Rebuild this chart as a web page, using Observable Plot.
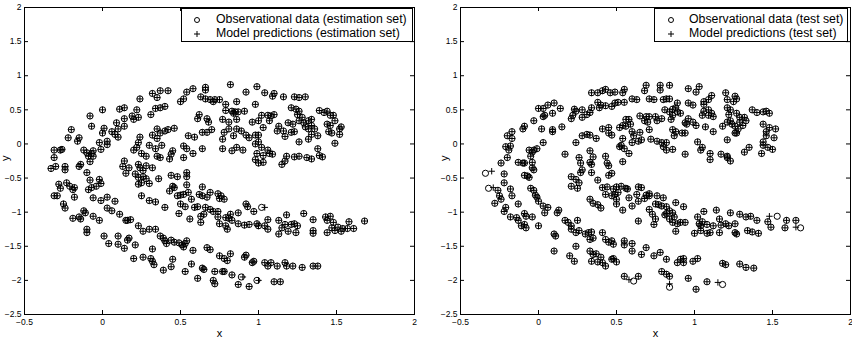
<!DOCTYPE html>
<html><head><meta charset="utf-8">
<script src="https://cdn.jsdelivr.net/npm/d3@7"></script>
<script src="https://cdn.jsdelivr.net/npm/@observablehq/plot@0.6"></script>
<style>
body{margin:0;background:#fff;font-family:"Liberation Sans",Arial,sans-serif;}
#wrap{position:relative;width:852px;height:346px;overflow:hidden;}
.panel{position:absolute;top:0;}
.legend{position:absolute;border:1px solid #000;background:#fff;color:#000;box-sizing:border-box;}
.legend svg{position:absolute;}
</style></head><body>
<div id="wrap"></div>
<script>
const xTicks = [-0.5, 0, 0.5, 1, 1.5, 2];
const yTicks = [-2.5, -2, -1.5, -1, -0.5, 0, 0.5, 1, 1.5, 2];
const xLabel = "x", yLabel = "y";
const estLegend = ["Observational data (estimation set)", "Model predictions (estimation set)"];
const testLegend = ["Observational data (test set)", "Model predictions (test set)"];

// Estimation set: points where observation and prediction coincide
const estPoints = [
[0.32,0.74],[0.37,0.78],[0.42,0.78],[0.35,0.68],[0.24,0.66],[0.54,0.76],[0.58,0.81],[0.52,0.66],[0.50,0.62],
[0.00,0.50],[0.11,0.51],[0.14,0.53],[0.22,0.50],[0.34,0.52],[0.37,0.53],[0.40,0.55],[0.31,0.43],[0.19,0.41],[0.20,0.36],[0.23,0.39],
[-0.08,0.41],[-0.07,0.26],[0.14,0.37],[0.09,0.31],[0.14,0.26],[0.01,0.23],[0.00,0.16],[0.06,0.18],[0.10,0.22],[0.08,0.14],[0.10,0.10],
[-0.20,0.21],[-0.22,0.09],[-0.15,0.09],[-0.16,0.04],[-0.02,0.02],[0.03,0.04],[0.03,-0.01],[-0.12,-0.09],[-0.10,-0.13],[-0.07,-0.14],
[-0.06,-0.10],[-0.09,-0.18],[-0.06,-0.18],[-0.01,-0.08],[-0.31,-0.09],[-0.27,-0.09],[-0.26,-0.08],[-0.31,-0.20],[-0.33,-0.36],[-0.30,-0.33],
[-0.24,-0.33],[-0.24,-0.38],[-0.14,-0.30],[-0.15,-0.33],[-0.08,-0.26],[-0.10,-0.42],[-0.08,-0.53],[-0.02,-0.52],
[0.24,0.10],[0.35,0.22],[0.37,0.16],[0.40,0.19],[0.42,0.21],[0.46,0.23],[0.32,0.13],[0.35,0.08],[0.38,-0.02],[0.30,-0.02],[0.23,0.02],
[0.22,-0.05],[0.20,-0.09],[0.25,-0.14],[0.28,-0.18],[0.34,-0.07],[0.35,-0.18],[0.37,-0.20],[0.45,-0.10],[0.44,-0.15],[0.43,-0.22],
[0.55,0.12],[0.59,0.10],[0.52,-0.03],[0.54,-0.07],[0.58,-0.14],[0.52,-0.20],[0.14,-0.25],[0.13,-0.33],[0.17,-0.35],[0.23,-0.30],
[0.24,-0.35],[0.26,-0.39],[0.28,-0.32],[0.32,-0.35],[0.21,-0.44],[0.23,-0.49],[0.26,-0.48],[0.28,-0.51],[0.15,-0.43],[0.36,-0.51],
[0.44,-0.46],[0.48,-0.48],[0.54,-0.42],[0.54,-0.48],
[0.66,0.83],[0.66,0.79],[0.82,0.87],[0.99,0.84],[0.92,0.76],[1.04,0.75],[1.10,0.74],[1.09,0.70],[1.16,0.69],[1.23,0.69],[1.26,0.68],
[1.30,0.69],[0.63,0.69],[0.66,0.66],[0.69,0.65],[0.72,0.65],[0.75,0.65],[0.71,0.62],[0.79,0.58],[0.86,0.62],[0.98,0.58],[0.79,0.49],
[0.83,0.48],[0.85,0.47],[0.87,0.47],[0.91,0.48],[0.84,0.45],[0.62,0.43],[0.61,0.37],[0.67,0.37],[0.68,0.32],[0.77,0.36],[0.81,0.32],
[0.86,0.36],[0.96,0.32],[1.00,0.34],[1.02,0.42],[1.06,0.42],[1.08,0.41],[1.10,0.43],[1.07,0.34],[1.03,0.24],[1.13,0.26],[1.12,0.19],
[1.16,0.19],[1.19,0.31],[1.21,0.53],[1.24,0.51],[1.26,0.48],[1.25,0.43],[1.28,0.39],[1.26,0.34],[1.22,0.29],[1.29,0.31],[1.32,0.34],
[1.34,0.36],[1.30,0.25],[1.32,0.22],[1.34,0.27],[1.36,0.22],[1.23,0.18],[1.21,0.17],[1.17,0.11],[1.34,0.14],[1.38,0.12],[1.39,0.49],
[1.42,0.46],[1.44,0.48],[1.46,0.42],[1.48,0.42],[1.49,0.34],[1.44,0.29],[1.46,0.27],[1.45,0.18],[1.47,0.16],[1.53,0.25],[1.52,0.22],
[1.52,0.14],[1.32,0.07],[1.26,0.03],[1.49,0.01],[0.64,0.17],[0.67,0.17],[0.70,0.21],[0.81,0.22],[0.86,0.22],[0.89,0.19],[0.92,0.13],
[0.94,0.09],[0.98,0.13],[1.00,0.13],[0.84,0.12],[0.78,0.17],[0.77,0.07],[0.64,-0.07],[0.77,-0.07],[0.83,-0.10],[0.86,-0.05],[0.90,-0.09],
[0.98,0.00],[1.00,0.03],[0.99,-0.14],[1.02,-0.05],[1.06,-0.09],[1.07,-0.14],[1.09,-0.15],[1.03,-0.17],[0.98,-0.23],[1.00,-0.28],
[1.03,-0.27],[1.15,-0.30],[1.17,-0.25],[1.18,-0.18],[1.23,-0.19],[1.26,-0.18],[1.31,-0.20],[1.34,-0.22],[1.38,-0.07],[1.39,-0.17],[1.41,-0.19],
[-0.28,-0.59],[-0.27,-0.65],[-0.23,-0.57],[-0.21,-0.62],[-0.19,-0.67],[-0.18,-0.64],[-0.31,-0.76],[-0.29,-0.76],[-0.18,-0.78],[-0.09,-0.67],
[-0.07,-0.64],[-0.04,-0.62],[-0.01,-0.58],[-0.06,-0.79],[-0.01,-0.83],[0.03,-0.78],[0.08,-0.84],[-0.25,-0.88],[-0.24,-0.94],[-0.19,-1.09],
[-0.15,-1.07],[-0.14,-1.10],[-0.12,-0.98],[-0.11,-1.01],[-0.06,-1.06],[-0.02,-1.12],[0.03,-0.94],[0.06,-0.98],[0.11,-1.03],[0.15,-1.12],
[0.16,-1.12],[0.18,-1.11],[-0.10,-1.25],[-0.10,-1.30],[0.01,-1.35],[0.04,-1.46],[0.10,-1.35],[0.10,-1.47],[0.14,-1.53],[0.16,-1.41],
[0.17,-1.38],[0.21,-1.48],[0.23,-1.20],[0.26,-1.28],[0.30,-1.25],[0.34,-1.25],[0.25,-0.57],[0.23,-0.59],[0.30,-0.58],[0.25,-0.76],
[0.30,-0.83],[0.34,-0.85],[0.40,-0.93],[0.43,-0.69],[0.45,-0.62],[0.46,-0.64],[0.49,-1.02],[0.54,-0.60],[0.48,-0.76],[0.50,-0.75],
[0.52,-0.74],[0.55,-0.71],[0.57,-0.81],[0.50,-0.88],[0.53,-0.92],[0.59,-0.93],[0.56,-1.10],[0.37,-1.35],[0.39,-1.38],[0.40,-1.42],
[0.41,-1.46],[0.44,-1.41],[0.46,-1.44],[0.49,-1.45],[0.51,-1.48],[0.53,-1.46],[0.54,-1.42],[0.58,-1.56],[0.52,-1.51],[0.20,-1.68],
[0.26,-1.66],[0.31,-1.68],[0.32,-1.54],[0.32,-1.72],[0.33,-1.77],[0.39,-1.85],[0.44,-1.80],[0.45,-1.69],[0.53,-1.87],[0.57,-1.76],
[0.64,-0.63],[0.62,-0.74],[0.64,-0.76],[0.67,-0.78],[0.69,-0.71],[0.74,-0.73],[0.76,-0.76],[0.78,-0.81],[0.75,-0.80],[0.61,-0.92],
[0.66,-0.93],[0.69,-0.96],[0.71,-0.99],[0.74,-0.99],[0.63,-1.06],[0.65,-1.03],[0.63,-1.15],[0.74,-1.07],[0.75,-1.17],[0.79,-1.08],
[0.81,-1.09],[0.82,-1.03],[0.79,-1.20],[0.80,-1.25],[0.83,-1.12],[0.87,-1.01],[0.92,-0.88],[0.93,-0.92],[0.97,-0.99],
[0.87,-1.17],[0.91,-1.19],[0.94,-1.18],[0.99,-1.17],[1.00,-1.20],[1.04,-1.20],[1.06,-1.11],[1.06,-1.25],[1.13,-1.12],[1.15,-1.23],
[1.13,-1.32],[1.17,-1.18],[1.18,-1.04],[1.21,-1.18],[1.23,-1.17],[1.25,-1.20],[1.19,-1.28],[1.24,-1.30],[1.29,-1.02],[1.35,-1.11],
[1.43,-1.07],[1.46,-1.06],[1.44,-1.12],[1.48,-1.15],[1.35,-1.27],[1.35,-1.31],[1.44,-1.30],[1.47,-1.23],[1.49,-1.27],[1.51,-1.22],
[1.54,-1.24],[1.53,-1.28],[1.58,-1.14],[1.57,-1.24],[1.61,-1.24],[1.68,-1.13],[0.67,-1.52],[0.69,-1.55],[0.75,-1.64],[0.78,-1.68],
[0.80,-1.71],[0.82,-1.61],[0.92,-1.63],[0.91,-1.66],[0.96,-1.74],[0.97,-1.72],[1.04,-1.74],[1.08,-1.74],[1.06,-1.79],[1.12,-1.79],
[1.17,-1.74],[1.18,-1.79],[1.22,-1.79],[1.28,-1.81],[1.35,-1.79],[1.38,-1.79],[0.64,-1.82],[0.65,-1.84],[0.72,-1.87],[0.77,-1.87],
[0.78,-1.87],[0.83,-1.92],[0.61,-1.97],[0.71,-2.00],[0.72,-2.05],[0.87,-2.06],[0.94,-2.09],[1.10,-2.02],[1.14,-2.02]
];
// Estimation set: points where the prediction is visibly offset
const estObsOnly = [[1.02,-0.93],[0.89,-1.95],[0.99,-2.00]];
const estPredOnly = [[1.04,-0.93],[0.90,-1.95],[1.00,-2.00]];

// Test set: points where observation and prediction coincide
const testPoints = [
[0.34,0.75],[0.38,0.75],[0.41,0.78],[0.43,0.80],[0.46,0.75],[0.49,0.76],[0.55,0.80],[0.54,0.75],[0.60,0.66],[0.38,0.61],[0.40,0.57],
[0.43,0.56],[0.47,0.55],[0.49,0.60],[0.51,0.61],[0.55,0.61],[0.39,0.53],[0.34,0.53],[0.23,0.51],[0.24,0.48],[0.28,0.50],[0.22,0.42],
[0.21,0.37],[0.28,0.39],[0.31,0.43],[0.33,0.46],[0.00,0.52],[0.03,0.52],[0.06,0.57],[0.10,0.60],[0.09,0.45],[0.14,0.52],[0.03,0.40],
[0.04,0.42],[-0.03,0.34],[-0.09,0.26],[-0.10,0.22],[-0.17,0.18],[-0.20,0.12],[-0.17,0.08],[0.02,0.22],[0.09,0.21],[0.09,0.18],[0.15,0.25],
[0.03,0.02],[-0.21,-0.04],[-0.18,-0.03],[-0.19,-0.09],[-0.20,-0.20],[-0.04,-0.12],[-0.05,-0.18],[-0.03,-0.09],[-0.01,-0.07],[-0.06,-0.09],
[-0.04,-0.27],[-0.04,-0.35],[-0.03,-0.38],[-0.24,-0.28],[-0.13,-0.27],[-0.10,-0.28],[-0.09,-0.28],[-0.22,-0.44],[-0.09,-0.46],[-0.07,-0.47],
[-0.06,-0.49],[0.17,-0.15],[0.24,0.02],[0.28,0.12],[0.31,0.14],[0.33,0.13],[0.37,0.08],[0.41,0.22],[0.45,0.24],[0.45,0.16],[0.47,0.13],
[0.52,0.24],[0.54,0.27],[0.56,0.36],[0.58,0.36],[0.56,0.26],[0.59,0.29],[0.60,0.18],[0.54,0.08],[0.53,-0.02],[0.55,-0.07],[0.58,-0.14],
[0.52,-0.04],[0.33,-0.10],[0.35,-0.19],[0.26,-0.20],[0.27,-0.28],[0.33,-0.27],[0.34,-0.30],[0.43,-0.18],[0.44,-0.28],[0.45,-0.32],
[0.54,-0.26],[0.21,-0.48],[0.24,-0.52],[0.27,-0.42],[0.28,-0.38],[0.34,-0.42],[0.45,-0.46],[0.47,-0.43],[0.38,-0.53],[0.60,0.02],[0.61,0.12],
[0.69,0.86],[0.68,0.78],[0.78,0.86],[0.78,0.79],[0.84,0.86],[0.96,0.81],[1.01,0.76],[1.03,0.84],[1.11,0.71],[1.20,0.75],[1.21,0.65],
[1.26,0.70],[1.27,0.66],[1.25,0.62],[0.63,0.65],[0.71,0.66],[0.74,0.65],[0.80,0.65],[0.82,0.66],[0.84,0.66],[0.89,0.60],[0.96,0.60],
[0.99,0.57],[1.06,0.62],[1.09,0.65],[1.06,0.58],[0.65,0.41],[0.68,0.34],[0.69,0.40],[0.71,0.40],[0.75,0.40],[0.76,0.34],[0.79,0.37],
[0.70,0.32],[0.81,0.50],[0.84,0.47],[0.86,0.42],[0.86,0.51],[0.88,0.53],[0.89,0.47],[0.91,0.45],[0.85,0.36],[0.94,0.31],[0.96,0.37],
[0.99,0.32],[1.01,0.27],[0.95,0.29],[1.07,0.25],[1.05,0.42],[1.06,0.48],[1.09,0.50],[1.11,0.45],[1.12,0.40],[1.09,0.42],[1.18,0.26],
[1.21,0.32],[1.23,0.34],[1.24,0.29],[1.26,0.26],[1.21,0.53],[1.23,0.50],[1.22,0.43],[1.27,0.45],[1.29,0.39],[1.32,0.39],[1.29,0.32],
[1.31,0.27],[1.33,0.34],[1.28,0.22],[1.26,0.16],[1.37,0.50],[1.40,0.46],[1.44,0.47],[1.46,0.48],[1.48,0.45],[1.44,0.29],[1.48,0.24],
[1.46,0.18],[1.52,0.22],[1.51,0.09],[1.46,0.12],[1.44,0.03],[1.44,-0.02],[1.47,-0.05],[1.50,-0.08],[1.43,-0.14],[0.65,0.17],[0.71,0.21],
[0.64,0.04],[0.66,0.06],[0.72,0.07],[0.76,0.04],[0.79,0.02],[0.82,0.02],[0.80,-0.04],[0.82,-0.09],[0.86,-0.08],[0.86,0.21],[0.88,0.18],
[0.87,0.12],[0.92,0.16],[0.94,0.16],[1.02,0.03],[1.04,-0.09],[1.05,-0.05],[0.94,-0.15],[1.10,-0.14],[1.10,-0.23],[1.12,0.18],[1.17,-0.15],
[1.21,-0.18],[1.21,-0.20],[1.23,-0.25],[1.21,0.06],[1.27,0.16],[1.32,-0.12],[1.35,-0.05],
[-0.26,-0.68],[-0.22,-0.57],[-0.18,-0.66],[-0.25,-0.76],[-0.24,-0.81],[-0.28,-0.87],[-0.21,-0.93],[-0.22,-0.99],[-0.17,-0.76],[-0.13,-0.88],
[-0.18,-1.07],[-0.14,-1.08],[-0.13,-1.12],[-0.09,-1.02],[-0.08,-1.06],[-0.04,-1.07],[-0.11,-1.20],[-0.09,-1.18],[-0.08,-1.23],[0.00,-1.20],
[-0.05,-0.65],[-0.03,-0.68],[-0.02,-0.75],[-0.01,-0.78],[0.00,-0.84],[0.03,-0.91],[0.06,-0.93],[0.04,-1.01],[0.12,-1.01],[0.13,-0.97],
[0.10,-1.32],[0.11,-1.35],[0.10,-1.57],[0.17,-1.12],[0.19,-1.15],[0.21,-1.20],[0.21,-1.25],[0.25,-1.12],[0.26,-1.27],[0.24,-1.30],
[0.30,-1.32],[0.32,-1.30],[0.34,-1.29],[0.33,-1.40],[0.35,-1.38],[0.41,-1.30],[0.43,-1.40],[0.45,-1.44],[0.47,-1.42],[0.48,-1.47],
[0.55,-1.42],[0.55,-1.48],[0.60,-1.46],[0.60,-1.57],[0.24,-1.50],[0.20,-1.64],[0.23,-1.72],[0.33,-1.57],[0.35,-1.62],[0.34,-1.72],
[0.37,-1.61],[0.38,-1.73],[0.40,-1.66],[0.41,-1.74],[0.43,-1.79],[0.47,-1.69],[0.48,-1.68],[0.50,-1.73],[0.55,-1.94],[0.21,-0.62],
[0.25,-0.65],[0.26,-0.57],[0.33,-0.81],[0.35,-0.87],[0.38,-0.89],[0.40,-0.94],[0.41,-0.64],[0.44,-0.63],[0.48,-0.66],[0.50,-0.63],
[0.53,-0.62],[0.56,-0.65],[0.57,-0.66],[0.43,-0.74],[0.47,-0.76],[0.49,-0.74],[0.51,-0.71],[0.50,-0.81],[0.50,-0.88],[0.54,-0.97],
[0.58,-0.79],[0.60,-0.91],
[0.64,-0.63],[0.66,-0.64],[0.63,-0.74],[0.69,-0.75],[0.71,-0.73],[0.64,-0.84],[0.68,-0.80],[0.71,-0.76],[0.76,-0.76],[0.80,-0.79],
[0.75,-0.88],[0.77,-0.89],[0.79,-0.91],[0.82,-0.92],[0.88,-0.86],[0.93,-0.92],[0.71,-0.96],[0.73,-1.03],[0.75,-1.10],[0.74,-1.18],
[0.81,-1.04],[0.82,-1.02],[0.84,-0.98],[0.86,-1.01],[0.87,-1.07],[0.84,-1.10],[0.86,-1.15],[0.89,-1.17],[0.91,-1.15],[0.94,-1.15],
[0.88,-1.28],[0.64,-1.13],[1.02,-1.07],[1.06,-0.99],[1.14,-0.97],[1.23,-1.01],[1.29,-1.03],[1.33,-1.07],[1.36,-1.06],[1.40,-1.12],
[1.47,-1.14],[1.49,-1.22],[1.59,-1.12],[1.58,-1.23],[1.65,-1.12],[1.03,-1.17],[1.05,-1.14],[1.04,-1.20],[1.08,-1.18],[1.12,-1.20],
[1.16,-1.10],[1.04,-1.27],[1.08,-1.31],[1.00,-1.31],[1.10,-1.30],[1.16,-1.30],[1.20,-1.17],[1.22,-1.20],[1.26,-1.17],[1.26,-1.30],
[1.27,-1.32],[1.34,-1.27],[1.37,-1.29],[1.41,-1.31],[1.17,-1.19],[0.66,-1.62],[0.69,-1.52],[0.74,-1.64],[0.78,-1.59],[0.82,-1.69],
[0.89,-1.74],[0.91,-1.69],[0.93,-1.68],[0.93,-1.74],[0.99,-1.72],[1.02,-1.68],[1.18,-1.75],[1.20,-1.77],[1.29,-1.76],[1.33,-1.81],
[1.38,-1.82],[0.64,-1.94],[0.79,-1.87],[0.82,-1.91],[0.84,-1.94],[0.96,-1.97],[1.01,-2.13],[1.08,-2.02]
];
// Test set: points where the prediction is visibly offset
const testObsOnly = [[-0.34,-0.43],[-0.32,-0.65],[1.53,-1.06],[1.68,-1.23],[0.84,-2.10],[1.18,-2.06],[0.61,-2.01]];
const testPredOnly = [[-0.30,-0.40],[-0.29,-0.64],[1.48,-1.06],[1.65,-1.22],[0.84,-2.05],[1.15,-2.03],[0.58,-1.99]];

const plusSymbol = {
  draw(ctx, size) {
    const r = Math.sqrt(size / Math.PI);
    ctx.moveTo(-r, 0); ctx.lineTo(r, 0);
    ctx.moveTo(0, -r); ctx.lineTo(0, r);
  }
};
const fmt = d => (d < 0 ? "\u2212" + String(-d) : String(d));
const W = 426, H = 346, MT = 7, MB = 32;

function panel(points, obsOnly, predOnly, ml, mr, yLabelDx) {
  const obs = points.concat(obsOnly), pred = points.concat(predOnly);
  const fh = H - MT - MB, fw = W - ml - mr;
  return Plot.plot({
    width: W, height: H, marginTop: MT, marginBottom: MB, marginLeft: ml, marginRight: mr,
    x: {domain: [-0.5, 2]}, y: {domain: [-2.5, 2]},
    style: {fontFamily: "'Liberation Sans', Arial, sans-serif", fontSize: "8.5px", background: "#fff", color: "#000", overflow: "visible"},
    marks: [
      Plot.tickX(xTicks, {x: d => d, insetTop: fh - 4, stroke: "#000", strokeWidth: 1}),
      Plot.tickX(xTicks, {x: d => d, insetBottom: fh - 4, stroke: "#000", strokeWidth: 1}),
      Plot.tickY(yTicks, {y: d => d, insetRight: fw - 4, stroke: "#000", strokeWidth: 1}),
      Plot.tickY(yTicks, {y: d => d, insetLeft: fw - 4, stroke: "#000", strokeWidth: 1}),
      Plot.axisX(xTicks, {tickSize: 0, tickPadding: 4, label: null, tickFormat: fmt, fill: "#000"}),
      Plot.axisY(yTicks, {tickSize: 0, tickPadding: 3, label: null, tickFormat: fmt, fill: "#000"}),
      Plot.text([xLabel], {frameAnchor: "bottom", dy: 22, fontSize: 11, fill: "#000"}),
      Plot.text([yLabel], {frameAnchor: "left", dx: yLabelDx, rotate: -90, fontSize: 11, fill: "#000"}),
      Plot.dot(obs, {x: d => d[0], y: d => d[1], r: 3.1, symbol: "circle", stroke: "#000", strokeWidth: 1, fill: "none"}),
      Plot.dot(pred, {x: d => d[0], y: d => d[1], r: 3.2, symbol: plusSymbol, stroke: "#000", strokeWidth: 1, fill: "none"}),
      Plot.frame({stroke: "#000", strokeWidth: 1})
    ]
  });
}

function legend(labels, left, width, markerX, textX) {
  const div = document.createElement("div");
  div.className = "legend";
  Object.assign(div.style, {left: left + "px", top: "8px", width: width + "px", height: "34px"});
  labels.forEach((lab, i) => {
    const cy = 11 + i * 14;
    const svg = d3.create("svg").attr("width", 10).attr("height", 10)
      .style("left", (markerX - left - 5) + "px").style("top", (cy - 5) + "px");
    if (i === 0) svg.append("circle").attr("cx", 5).attr("cy", 5).attr("r", 2.5).attr("fill", "none").attr("stroke", "#000").attr("stroke-width", 1);
    else svg.append("path").attr("d", "M2,5H8M5,2V8").attr("stroke", "#000").attr("stroke-width", 1);
    div.appendChild(svg.node());
    const row = document.createElement("span");
    row.textContent = lab;
    Object.assign(row.style, {
      position: "absolute", whiteSpace: "nowrap", left: (textX - left) + "px", top: (cy - 8) + "px",
      fontSize: "12.3px", lineHeight: "15px", fontFamily: "'Liberation Sans', Arial, sans-serif"
    });
    div.appendChild(row);
  });
  return div;
}

const wrap = document.getElementById("wrap");
const p1 = panel(estPoints, estObsOnly, estPredOnly, 24, 12, -19);
p1.classList.add("panel"); p1.style.left = "0px";
const p2 = panel(testPoints, testObsOnly, testPredOnly, 34, 2, -16);
p2.classList.add("panel"); p2.style.left = "426px";
wrap.appendChild(p1); wrap.appendChild(p2);
wrap.appendChild(legend(estLegend, 181, 232, 196, 215));
wrap.appendChild(legend(testLegend, 654, 194, 670, 688));
</script>
</body></html>
